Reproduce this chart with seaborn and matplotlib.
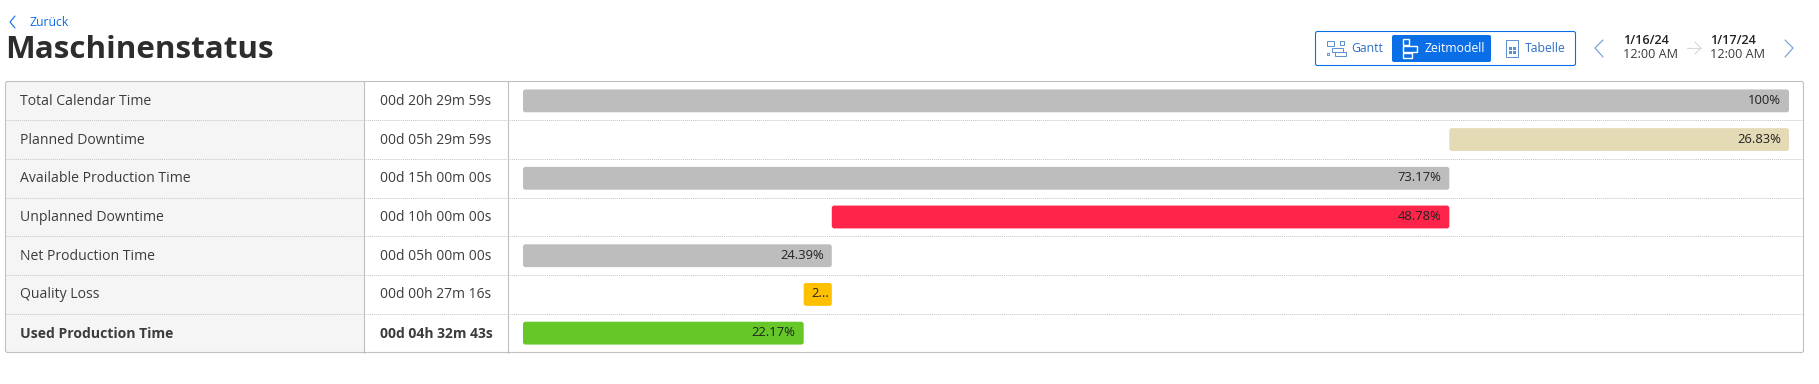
import seaborn as sns
from matplotlib import pyplot as plt
from matplotlib.patches import FancyBboxPatch, Rectangle
import pandas as pd

categories = ["Total Calendar Time", "Planned Downtime", "Available Production Time",
              "Unplanned Downtime", "Net Production Time", "Quality Loss", "Used Production Time"]
durations = ["00d 20h 29m 59s", "00d 05h 29m 59s", "00d 15h 00m 00s", "00d 10h 00m 00s",
             "00d 05h 00m 00s", "00d 00h 27m 16s", "00d 04h 32m 43s"]
starts = [0, 73.17, 0, 24.39, 0, 22.17, 0]
shares = [100, 26.83, 73.17, 48.78, 24.39, 2.22, 22.17]
bar_labels = ["100%", "26.83%", "73.17%", "48.78%", "24.39%", "2...", "22.17%"]
colors = ["#bdbdbd", "#e5dab6", "#bdbdbd", "#ff2449", "#bdbdbd", "#ffc000", "#65c728"]

W, H = 1819, 384
BLUE = "#0a6ee6"
TEXT = "#3c3c3c"
FS = 0.72  # px to pt at dpi 100

sns.set_theme(style="white")
plt.rcParams['font.family'] = ['Open Sans', 'DejaVu Sans']

fig = plt.figure(figsize=(W / 100, H / 100), dpi=100)
page = fig.add_axes([0, 0, 1, 1])
page.set_xlim(0, W)
page.set_ylim(H, 0)
page.axis('off')

TOP, BOTTOM = 81.5, 352.5
LEFT, RIGHT = 5.5, 1803.5
COL1, COL2 = 364, 508
BAR_L, BAR_R = 523, 1789

ax = fig.add_axes([BAR_L / W, 1 - BOTTOM / H, (BAR_R - BAR_L) / W, (BOTTOM - TOP) / H])
data = pd.DataFrame({"category": categories, "share": shares})
sns.barplot(data=data, y="category", x="share", hue="category", palette=colors,
            width=0.59, saturation=1, legend=False, ax=ax)
ax.set_xlim(0, 100)
ax.set_ylim(6.5, -0.5)
ax.axis('off')

# table frame and background
page.add_patch(Rectangle((LEFT, TOP), COL1 - LEFT, BOTTOM - TOP, fc="#f5f5f5", ec="none", zorder=1))
page.add_patch(FancyBboxPatch((LEFT, TOP), RIGHT - LEFT, BOTTOM - TOP, boxstyle="round,pad=0,rounding_size=2",
                              fc="none", ec="#c0c0c0", lw=0.8, zorder=4))
for x in [COL1, COL2]:
    page.plot([x, x], [TOP, BOTTOM], color="#c0c0c0", lw=0.8, zorder=3)

row_h = (BOTTOM - TOP) / len(categories)
for i in range(1, len(categories)):
    y = TOP + i * row_h
    page.plot([LEFT, RIGHT], [y, y], color="#c4c4c4", lw=0.7, ls=(0, (1, 1)), zorder=2)

# rounded bars, geometry taken from what seaborn drew
for patch, start, label in zip(list(ax.patches), starts, bar_labels):
    patch.set_x(start)
    x0, y0, x1, y1 = patch.get_extents().extents
    py0, py1 = H - y1, H - y0
    patch.set_visible(False)
    page.add_patch(FancyBboxPatch((x0, py0), x1 - x0, py1 - py0, boxstyle="round,pad=0,rounding_size=2.5",
                                  fc=patch.get_facecolor(), ec="none", zorder=5))
    pad = 3 if label.endswith("...") else 8
    page.text(x1 - pad, (py0 + py1) / 2 - 0.5, label, ha="right", va="center", fontsize=13 * FS,
              color="#222222", weight="medium", zorder=6)

for i, (name, dur) in enumerate(zip(categories, durations)):
    y = TOP + (i + 0.5) * row_h
    weight = "bold" if i == len(categories) - 1 else "normal"
    page.text(20, y + 0.5, name, ha="left", va="center", fontsize=14 * FS, color=TEXT, weight=weight, zorder=6)
    page.text(379.5, y + 0.5, dur, ha="left", va="center", fontsize=13.9 * FS, color=TEXT, weight=weight, zorder=6)

# header
page.plot([15, 10, 15], [16, 22, 28], color=BLUE, lw=0.8)
page.text(29, 23, "Zurück", ha="left", va="center", fontsize=12.2 * FS, color=BLUE)
page.text(5, 50, "Maschinenstatus", ha="left", va="center", fontsize=31.4 * FS, color="#2d2d2d", weight="bold")

# view switcher
page.add_patch(FancyBboxPatch((1315.5, 31.5), 260, 34, boxstyle="round,pad=0,rounding_size=2",
                              fc="white", ec=BLUE, lw=0.8))
page.add_patch(FancyBboxPatch((1392, 35), 99, 27, boxstyle="round,pad=0,rounding_size=2",
                              fc=BLUE, ec="none"))
page.text(1351, 48.5, "Gantt", ha="left", va="center", fontsize=12.2 * FS, color="#2f6fc4")
page.text(1424, 48.5, "Zeitmodell", ha="left", va="center", fontsize=12.2 * FS, color="white")
page.text(1525, 48.5, "Tabelle", ha="left", va="center", fontsize=12.2 * FS, color="#2f6fc4")

for x, y, w, h in [(1327, 41, 7, 5), (1340, 41, 4, 4), (1332, 48, 11, 4), (1327, 53, 2, 2), (1335, 52, 11, 4)]:
    page.add_patch(Rectangle((x, y), w, h, fc="white", ec="#5b8fd0", lw=0.7))
for x, y, w, h in [(1403, 39, 6, 6), (1403, 46, 14, 6), (1403, 53, 9, 5)]:
    page.add_patch(Rectangle((x, y), w, h, fc=BLUE, ec="white", lw=1))
page.add_patch(Rectangle((1506, 40), 12, 17, fc="white", ec="#5b8fd0", lw=0.7))
for x in [1509, 1513]:
    for y in [47, 51]:
        page.add_patch(Rectangle((x, y), 3, 2.5, fc="#5b8fd0", ec="none"))

# date range
page.plot([1603, 1595, 1603], [40, 48, 57], color="#6f9bd6", lw=0.8)
page.plot([1785, 1793, 1785], [40, 48, 57], color="#6f9bd6", lw=0.8)
page.plot([1687, 1701], [48, 48], color="#d8d8d8", lw=0.8)
page.plot([1695, 1701, 1695], [42, 48, 54], color="#d8d8d8", lw=0.8)
page.text(1623, 40, "1/16/24", ha="left", va="center", fontsize=12.6 * FS, color="#222222", weight="semibold")
page.text(1623, 54, "12:00 AM", ha="left", va="center", fontsize=12.6 * FS, color=TEXT)
page.text(1710, 40, "1/17/24", ha="left", va="center", fontsize=12.6 * FS, color="#222222", weight="semibold")
page.text(1710, 54, "12:00 AM", ha="left", va="center", fontsize=12.6 * FS, color=TEXT)

plt.savefig("out.png", dpi=100)
